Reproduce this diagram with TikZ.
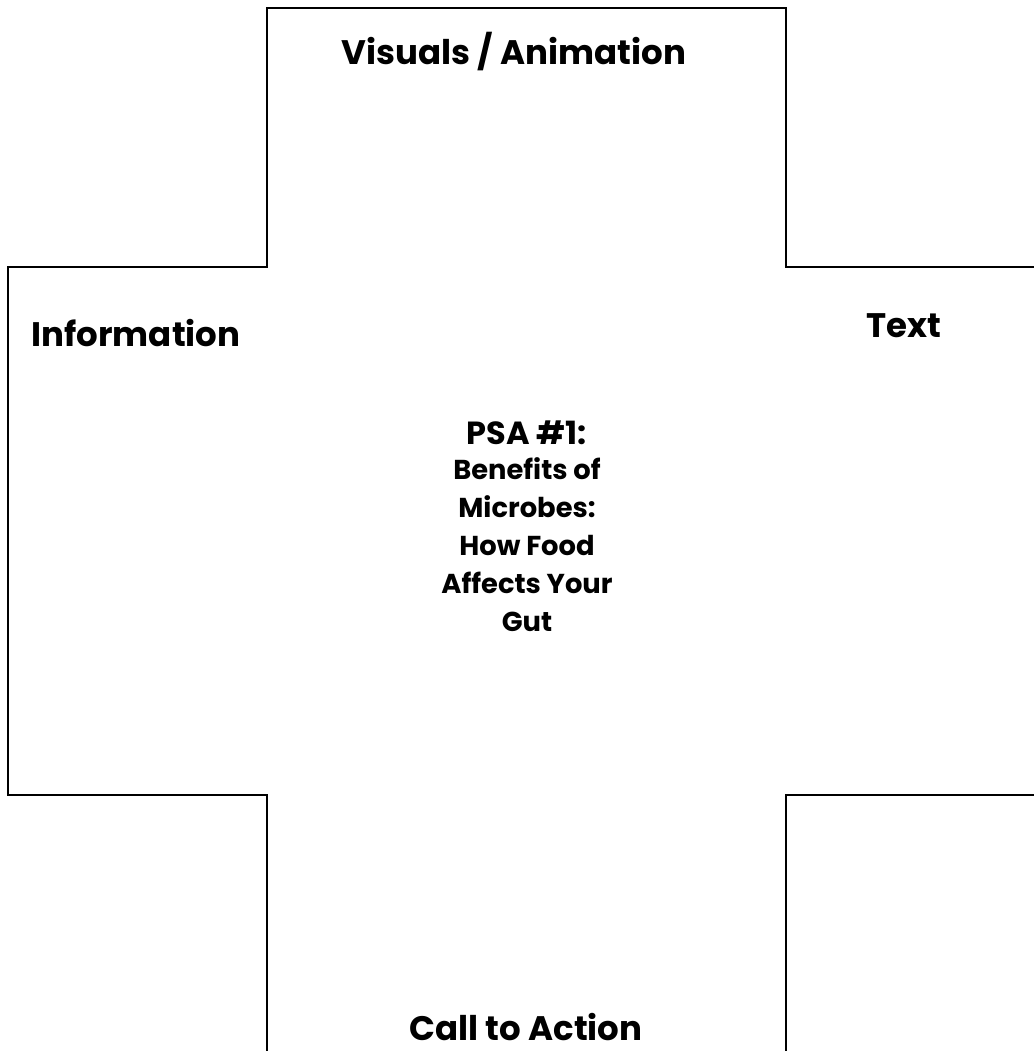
\documentclass[tikz,border=0pt]{standalone}
\usepackage{fontspec}
\setmainfont{Poppins}
\usepackage{tikz}

\begin{document}
\begin{tikzpicture}[x=0.75pt,y=-0.75pt,
    armlabel/.style={font=\fontsize{25.5}{30}\selectfont\bfseries},
    titlelabel/.style={font=\fontsize{20.5}{28.5}\selectfont\bfseries,align=center}]
    \useasboundingbox (0,0) rectangle (1034,1051);% page frame

    \draw[line width=1.5pt,line join=miter]% cross outline
    (1040,267) -- (786,267) -- (786,8) -- (267,8) -- (267,267) -- (8,267) --
    (8,795) -- (267,795) -- (267,1060);
    \draw[line width=1.5pt,line join=miter]% lower right corner
    (1040,795) -- (786,795) -- (786,1060);

    \node[armlabel] (visuals) at (514,52) {Visuals / Animation};% top arm
    \node[armlabel] (info) at (136,333) {Information};% left arm
    \node[armlabel] (textarm) at (904,326) {Text};% right arm
    \node[armlabel] (action) at (526,1027) {Call to Action};% bottom arm

    \node[font=\fontsize{24}{28}\selectfont\bfseries] (psa) at (527,433) {PSA \#1:};% centre title
    \node[titlelabel] (topic) at (527,545)
    {Benefits of\\Microbes:\\How Food\\Affects Your\\Gut};
\end{tikzpicture}
\end{document}
